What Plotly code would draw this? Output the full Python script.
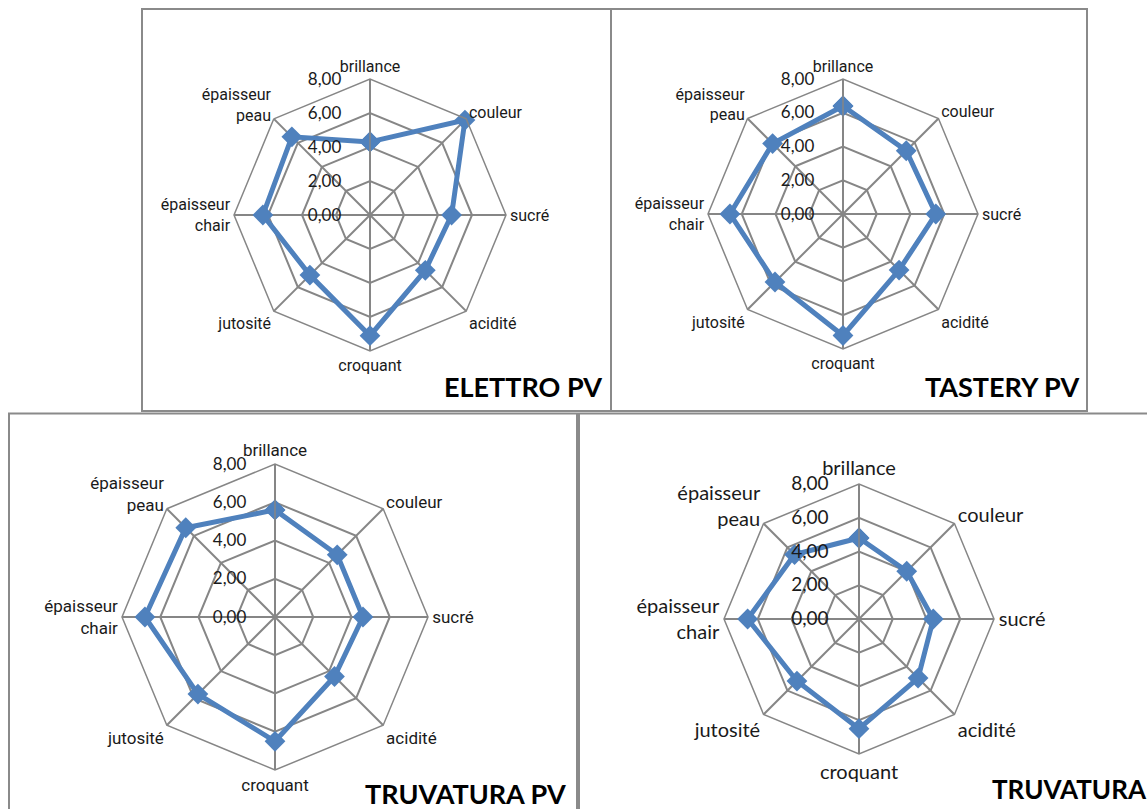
import plotly.graph_objects as go

W, H = 1147, 809

# Sensory attributes (clockwise from the top)
attributes = ["brillance", "couleur", "sucré", "acidité", "croquant",
              "jutosité", "épaisseur<br>chair", "épaisseur<br>peau"]

# Mean panel scores per variety
elettro_pv = [4.3, 7.9, 4.8, 4.6, 7.1, 5.0, 6.3, 6.5]
tastery_pv = [6.4, 5.3, 5.5, 4.7, 7.2, 5.7, 6.7, 5.9]
truvatura_pv = [5.6, 4.6, 4.6, 4.4, 6.5, 5.7, 6.8, 6.6]
truvatura = [4.8, 4.0, 4.4, 4.95, 6.5, 5.2, 6.6, 5.4]

radial_ticks = [0, 2, 4, 6, 8]

LINE_BLUE = "#4F81BD"
GRID = "#868686"
BORDER = "#8a8a8a"
NARROW = "Roboto"

# name, scores, centre (px), radius (px), label font, label size, tick size, tick offset
panels = [
    ("ELETTRO PV", elettro_pv, (370, 215), 136, NARROW, 16, 17, 22),
    ("TASTERY PV", tastery_pv, (843, 214), 135, NARROW, 16, 17, 22),
    ("TRUVATURA PV", truvatura_pv, (275, 617), 153, NARROW, 17, 17, 22),
    ("TRUVATURA", truvatura, (859, 619), 135, "Lato", 20, 19, 23),
]


def px_x(x):
    return x / W


def px_y(y):
    return 1 - y / H


fig = go.Figure()
layout = dict(
    width=W, height=H,
    margin=dict(l=0, r=0, t=0, b=0),
    paper_bgcolor="white",
    plot_bgcolor="white",
    separators=", ",
    showlegend=False,
    annotations=[],
    shapes=[],
)

for i, (name, scores, (cx, cy), rad, lab_font, lab_size, tick_size, tick_off) in enumerate(panels):
    key = "polar" if i == 0 else f"polar{i + 1}"
    fig.add_trace(go.Scatterpolar(
        r=scores + scores[:1],
        theta=attributes + attributes[:1],
        mode="lines+markers",
        line=dict(color=LINE_BLUE, width=5),
        marker=dict(symbol="diamond", size=16, color=LINE_BLUE),
        subplot=key,
        name=name,
    ))
    layout[key] = dict(
        domain=dict(x=[px_x(cx - rad), px_x(cx + rad)],
                    y=[px_y(cy + rad), px_y(cy - rad)]),
        bgcolor="white",
        gridshape="linear",
        radialaxis=dict(
            range=[0, 8], tickvals=radial_ticks, tickformat=".2f",
            angle=90, tickangle=90, side="counterclockwise",
            showline=True, linecolor=GRID, linewidth=1.5,
            gridcolor=GRID, gridwidth=1.5,
            # invisible ticks push the value labels away from the axis line
            ticks="outside", ticklen=tick_off, tickcolor="rgba(0,0,0,0)",
            tickfont=dict(family="Lato", size=tick_size, color="#1a1a1a"),
        ),
        angularaxis=dict(
            rotation=90, direction="clockwise",
            showline=True, linecolor=GRID, linewidth=1.5,
            gridcolor=GRID, gridwidth=1.5,
            ticks="",
            tickfont=dict(family=lab_font, size=lab_size, color="#1a1a1a"),
        ),
    )

# Variety names in the lower right corner of each frame
titles = [
    ("ELETTRO PV", 604, 387, 27, "right"),
    ("TASTERY PV", 1081, 387, 27, "right"),
    ("TRUVATURA PV", 568, 793, 27, "right"),
    ("TRUVATURA", 990, 789, 26, "left"),
]
for text, x, y, size, anchor in titles:
    layout["annotations"].append(dict(
        text=f"<b>{text}</b>", x=px_x(x), y=px_y(y),
        xref="paper", yref="paper", xanchor=anchor, yanchor="middle",
        showarrow=False,
        font=dict(family="Lato", size=size, color="black"),
    ))

# Frames around each chart
frames = [
    (142, 9, 611, 411),
    (611, 9, 1087, 411),
    (9, 413.5, 577, 830),
    (579, 413.5, 1170, 830),
]
for x0, y0, x1, y1 in frames:
    layout["shapes"].append(dict(
        type="rect", xref="paper", yref="paper",
        x0=px_x(x0), x1=px_x(x1), y0=px_y(y1), y1=px_y(y0),
        line=dict(color=BORDER, width=2), layer="below",
    ))

fig.update_layout(**layout)
fig.write_html("out.html")
